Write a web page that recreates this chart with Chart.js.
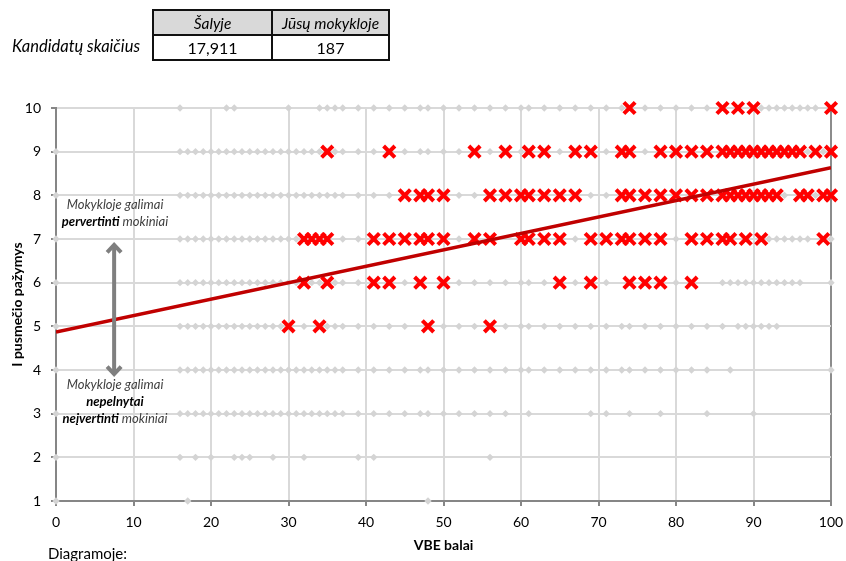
<!DOCTYPE html>
<html>
<head>
<meta charset="utf-8">
<script src="https://cdn.jsdelivr.net/npm/chart.js@4.4.1/dist/chart.umd.min.js"></script>
<style>
  body { margin: 0; background: #fff; font-family: Lato, "Liberation Sans", sans-serif; }
  #wrap { position: relative; width: 846px; height: 561px; overflow: hidden; }
  #chart { position: absolute; left: 0; top: 0; }
  .cell { position: absolute; box-sizing: border-box; border: 2px solid #111; display: flex;
          align-items: center; justify-content: center; color: #000; }
  .head { background: #d9d9d9; font-style: italic; font-size: 15.5px; }
  .val { background: #fff; font-size: 16px; }
  .txt { position: absolute; color: #000; }
  .note { position: absolute; left: 40px; width: 150px; text-align: center; font-size: 13px;
          font-style: italic; line-height: 17px; color: #3f3f3f; }
  .note b { color: #000; }
</style>
</head>
<body>
<div id="wrap">
  <canvas id="chart" width="846" height="561"></canvas>

  <div class="txt" style="right:706px;top:36px;font-size:16.5px;font-style:italic;">Kandidatų skaičius</div>
  <div class="cell head" style="left:152px;top:9px;width:121px;height:27px;">Šalyje</div>
  <div class="cell head" style="left:271px;top:9px;width:119px;height:27px;">Jūsų mokykloje</div>
  <div class="cell val" style="left:152px;top:34px;width:121px;height:27px;">17,911</div>
  <div class="cell val" style="left:271px;top:34px;width:119px;height:27px;">187</div>

  <div class="note" style="top:196px;">Mokykloje galimai<br><b>pervertinti</b> mokiniai</div>
  <div class="note" style="top:376px;">Mokykloje galimai<br><b>nepelnytai</b><br><b>neįvertinti</b> mokiniai</div>

  <div class="txt" style="left:48px;top:544px;font-size:15px;">Diagramoje:</div>
</div>

<script>
// VBE balai of the whole country, per I pusmečio pažymys (grey points)
const country10 = [16, 22, 23, 30, 34, 35, 36, 37, 39, 41, 43, 45, 47, 48, 50, 52, 54, 56, 58, 60, 61, 63, 65, 67, 69, 71, 73, 76, 78, 80, 82, 84, 91, 92, 93, 94, 95, 96, 97, 98];
const country9 = [0, 16, 17, 18, 19, 20, 21, 22, 23, 24, 25, 26, 27, 28, 29, 30, 31, 32, 33, 34, 36, 37, 39, 41, 45, 47, 48, 50, 52, 56, 60, 65, 71, 76, 97, 99];
const country8 = [0, 16, 17, 18, 19, 20, 21, 22, 23, 24, 25, 26, 27, 28, 29, 30, 31, 32, 33, 34, 35, 36, 37, 39, 41, 43, 52, 54, 69, 71, 94, 98];
const country7 = [0, 16, 17, 18, 19, 20, 21, 22, 23, 24, 25, 26, 27, 28, 29, 30, 31, 37, 39, 52, 67, 80, 92, 93, 94, 95, 96, 97, 100];
const country6 = [0, 16, 17, 18, 19, 20, 21, 22, 23, 24, 25, 26, 27, 28, 29, 30, 31, 33, 34, 36, 37, 39, 45, 52, 54, 56, 58, 60, 61, 63, 67, 71, 80, 86, 87, 88, 89, 90, 91, 92, 93, 94, 95, 96, 100];
const country5 = [0, 16, 17, 18, 19, 20, 21, 22, 23, 24, 25, 26, 27, 28, 29, 32, 35, 36, 37, 39, 41, 43, 45, 50, 52, 54, 58, 60, 61, 63, 65, 67, 69, 71, 73, 74, 76, 78, 80, 82, 84, 86, 88, 89, 90, 91, 92, 93];
const country4 = [0, 16, 17, 18, 19, 20, 21, 22, 23, 24, 25, 26, 27, 28, 29, 30, 31, 32, 33, 34, 35, 36, 37, 39, 41, 43, 45, 47, 48, 50, 52, 54, 56, 58, 60, 61, 63, 65, 67, 69, 71, 73, 74, 76, 78, 80, 82, 84, 87, 100];
const country3 = [0, 16, 17, 18, 19, 20, 21, 22, 23, 24, 25, 26, 27, 28, 29, 30, 31, 32, 33, 34, 35, 36, 37, 39, 41, 43, 45, 47, 48, 50, 52, 54, 56, 58, 61, 69, 71, 74, 78, 84, 90];
const country2 = [0, 16, 18, 20, 23, 24, 25, 28, 32, 39, 41, 56];
const country1 = [0, 17, 48];

// VBE balai of the school's candidates (red crosses)
const school10 = [74, 86, 88, 90, 100];
const school9 = [35, 43, 54, 58, 61, 63, 67, 69, 73, 74, 78, 80, 82, 84, 86, 87, 88, 89, 90, 91, 92, 93, 94, 95, 96, 98, 100];
const school8 = [45, 47, 48, 50, 56, 58, 60, 61, 63, 65, 67, 73, 74, 76, 78, 80, 82, 84, 86, 87, 88, 89, 90, 91, 92, 93, 96, 97, 99, 100];
const school7 = [32, 33, 34, 35, 41, 43, 45, 47, 48, 50, 54, 56, 60, 61, 63, 65, 69, 71, 73, 74, 76, 78, 82, 84, 86, 87, 89, 91, 99];
const school6 = [32, 35, 41, 43, 47, 50, 65, 69, 74, 76, 78, 82];
const school5 = [30, 34, 48, 56];

// linear trend of the country data
const trendX = [0, 100];
const trendY = [4.87, 8.63];

const xTicks = [0, 10, 20, 30, 40, 50, 60, 70, 80, 90, 100];
const yTicks = [1, 2, 3, 4, 5, 6, 7, 8, 9, 10];

const countryRows = [[10, country10], [9, country9], [8, country8], [7, country7], [6, country6],
                     [5, country5], [4, country4], [3, country3], [2, country2], [1, country1]];
const schoolRows = [[10, school10], [9, school9], [8, school8], [7, school7], [6, school6], [5, school5]];

const toPoints = rows => rows.flatMap(([g, arr]) => arr.map(s => ({ x: s, y: g })));

// double arrow between the two notes (data units)
const arrowX = 7.5, arrowTop = 6.9, arrowBottom = 3.87;

const arrowPlugin = {
  id: 'arrow',
  afterDatasetsDraw(chart) {
    const { ctx, scales: { x, y } } = chart;
    const px = x.getPixelForValue(arrowX);
    const top = y.getPixelForValue(arrowTop);
    const bot = y.getPixelForValue(arrowBottom);
    ctx.save();
    ctx.strokeStyle = '#7f7f7f';
    ctx.lineWidth = 4;
    ctx.beginPath();
    ctx.moveTo(px, top + 2);
    ctx.lineTo(px, bot - 2);
    ctx.stroke();
    ctx.beginPath();
    ctx.moveTo(px - 7, top + 9); ctx.lineTo(px, top + 1.5); ctx.lineTo(px + 7, top + 9);
    ctx.moveTo(px - 7, bot - 9); ctx.lineTo(px, bot - 1.5); ctx.lineTo(px + 7, bot - 9);
    ctx.stroke();
    ctx.restore();
  }
};

Chart.defaults.font.family = 'Lato, "Liberation Sans", sans-serif';
Chart.defaults.font.size = 14;
Chart.defaults.color = '#000';

new Chart(document.getElementById('chart'), {
  type: 'scatter',
  data: {
    datasets: [
      {
        label: 'Šalyje',
        data: toPoints(countryRows),
        pointStyle: 'rectRot',
        pointRadius: 3.7,
        backgroundColor: '#d4d4d4',
        borderWidth: 0,
        clip: false,
        order: 3
      },
      {
        label: 'Jūsų mokykloje',
        data: toPoints(schoolRows),
        pointStyle: 'crossRot',
        pointRadius: 8,
        borderColor: '#ff0000',
        borderWidth: 4,
        clip: false,
        order: 2
      },
      {
        label: 'Tendencija',
        data: trendX.map((v, i) => ({ x: v, y: trendY[i] })),
        showLine: true,
        pointRadius: 0,
        borderColor: '#c00000',
        borderWidth: 3.5,
        order: 1
      }
    ]
  },
  options: {
    responsive: false,
    animation: false,
    events: [],
    layout: { padding: { top: 108, right: 15, bottom: 0, left: 0 } },
    plugins: { legend: { display: false }, tooltip: { enabled: false } },
    scales: {
      x: {
        type: 'linear', min: 0, max: 100,
        afterBuildTicks: s => { s.ticks = xTicks.map(v => ({ value: v })); },
        afterFit: s => { s.height = 60; s.paddingLeft = 0; s.paddingRight = 0; },
        ticks: { padding: 8 },
        grid: {
          color: c => (c.tick && c.tick.value === 100 ? '#8c8c8c' : '#d9d9d9'),
          lineWidth: 2, tickLength: 5, tickColor: '#868686'
        },
        border: { color: '#868686', width: 2 },
        title: { display: true, text: 'VBE balai', font: { weight: 'bold' }, padding: { top: 0, bottom: 7 } }
      },
      y: {
        type: 'linear', min: 1, max: 10,
        afterBuildTicks: s => { s.ticks = yTicks.map(v => ({ value: v })); },
        afterFit: s => { s.width = 56; s.paddingTop = 0; s.paddingBottom = 0; },
        ticks: { padding: 10 },
        grid: { color: '#d9d9d9', lineWidth: 2, tickLength: 5, tickColor: '#868686' },
        border: { color: '#868686', width: 2 },
        title: { display: true, text: 'I pusmečio pažymys', font: { weight: 'bold' }, padding: { top: 9, bottom: 0 } }
      }
    }
  },
  plugins: [arrowPlugin]
});
</script>
</body>
</html>
